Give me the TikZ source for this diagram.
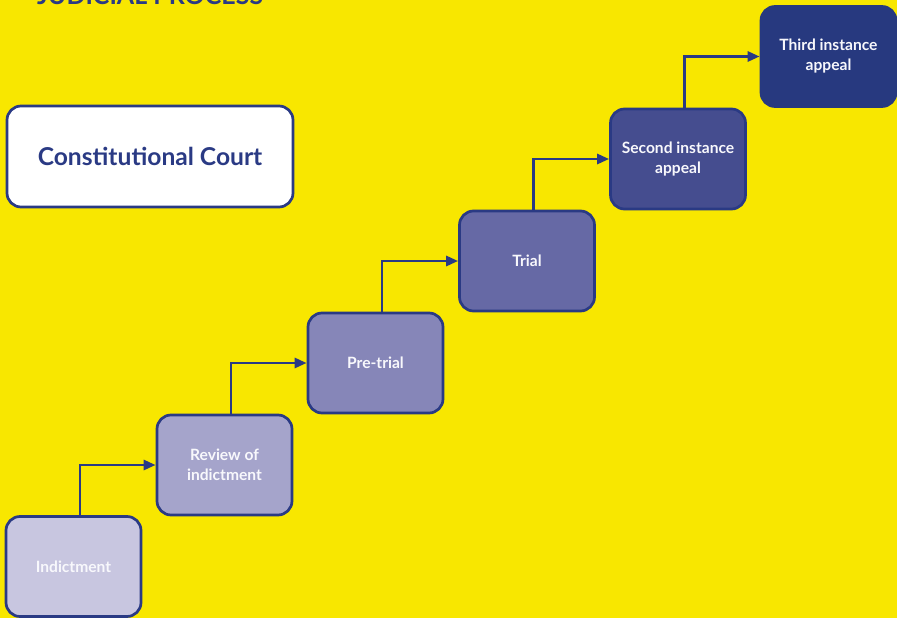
\documentclass[tikz,border=0pt]{standalone}
\usepackage{fontspec}
\setmainfont{Lato}
\usetikzlibrary{arrows.meta}
\definecolor{bgyellow}{HTML}{F8E700}
\definecolor{navy}{HTML}{2A3A84}
\definecolor{f1}{HTML}{C8C6E0}
\definecolor{f2}{HTML}{A5A4CB}
\definecolor{f3}{HTML}{8686B8}
\definecolor{f4}{HTML}{6669A5}
\definecolor{f5}{HTML}{454D8F}
\definecolor{f6}{HTML}{27397F}
\definecolor{boxtext}{HTML}{F8F8FC}
\tikzset{
  stepbox/.style={draw=navy, line width=2.7pt, rounded corners=14pt,
    minimum width=135pt, minimum height=100pt, align=center,
    text=boxtext, font=\fontsize{15.6}{20}\selectfont\bfseries, inner sep=0pt},
  conn/.style={draw=navy, line width=2.8pt, -{Triangle[length=12pt,width=10pt]}}
}
\begin{document}
\begin{tikzpicture}[x=1pt,y=-1pt]
\fill[bgyellow] (0,0) rectangle (897,618);
\useasboundingbox (0,0) rectangle (897,618);
\node[anchor=base west, text=navy, font=\fontsize{25}{28}\selectfont\bfseries, inner sep=0pt] (title) at (37,5) {JUDICIAL PROCESS};
\node[stepbox, fill=f1] (ind) at (73.5,566.5) {Indictment};
\node[stepbox, fill=f2] (rev) at (224.5,465) {Review of\\indictment};
\node[stepbox, fill=f3] (pre) at (375.5,363) {Pre-trial};
\node[stepbox, fill=f4] (trial) at (527,261) {Trial};
\node[stepbox, fill=f5] (second) at (678,159) {Second instance\\appeal};
\node[stepbox, fill=f6, draw=f6] (third) at (828.5,56.5) {Third instance\\appeal};
\node[stepbox, fill=white, minimum width=286pt, minimum height=101pt, text=navy, font=\fontsize{24.6}{28}\selectfont\bfseries] (cc) at (150,156.5) {Constitutional Court};
\draw[conn] ([xshift=6.5pt]ind.north) |- (rev.west);
\draw[conn] ([xshift=6.5pt]rev.north) |- (pre.west);
\draw[conn] ([xshift=6.5pt]pre.north) |- (trial.west);
\draw[conn] ([xshift=6.5pt]trial.north) |- (second.west);
\draw[conn] ([xshift=6.5pt]second.north) |- (third.west);
\end{tikzpicture}
\end{document}
